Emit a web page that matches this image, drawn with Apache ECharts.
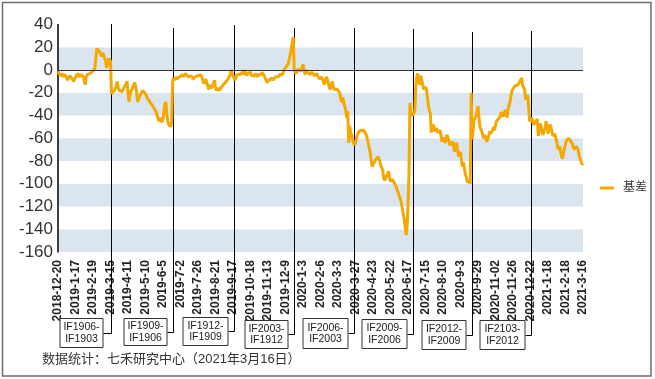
<!DOCTYPE html>
<html><head><meta charset="utf-8">
<script src="https://cdn.jsdelivr.net/npm/echarts@6/dist/echarts.min.js"></script>
<style>html,body{margin:0;padding:0;background:#fff}#c{width:655px;height:379px}</style>
</head><body><div id="c"></div>
<script>
// ---- data ----
const tickLabels = ['2018-12-20','2019-1-17','2019-2-19','2019-3-15','2019-4-11','2019-5-10','2019-6-5','2019-7-2','2019-7-26','2019-8-21','2019-9-17','2019-10-18','2019-11-13','2019-12-9','2020-1-3','2020-2-6','2020-3-3','2020-3-27','2020-4-23','2020-5-22','2020-6-17','2020-7-15','2020-8-10','2020-9-3','2020-9-29','2020-11-02','2020-11-26','2020-12-22','2021-1-18','2021-2-18','2021-3-16'];
const tickStep = 18; // trading days between tick labels
const seriesName = '基差';
// basis values, one per trading day, split by roll period
const segA = [-1,-3,-4,-5,-3,-6,-6,-4,-5,-7,-9,-7,-5,-6,-6,-8,-10,-8,-7,-5,-3,-4,-6,-5,-4,-4,-6,-9,-13,-6,-4,-3,-4,-3,-2,-2,-1,0,2,3,19,20,17,16,14,12,15,13,10,8,2,5,10,9,8];
const segB = [-21,-22,-20,-18,-19,-14,-10,-16,-18,-17,-19,-19,-17,-18,-16,-12,-10,-20,-28,-22,-19,-17,-15,-13,-11,-10,-20,-28,-25,-23,-22,-20,-18,-17,-19,-21,-23,-25,-26,-27,-29,-30,-31,-32,-34,-35,-37,-40,-43,-45,-42,-44,-46,-43,-36,-30,-28,-40,-46,-48,-47,-50,-44];
const segC = [-9,-7,-9,-6,-8,-7,-9,-6,-5,-7,-4,-6,-5,-3,-4,-3,-6,-5,-7,-5,-6,-8,-7,-6,-5,-7,-5,-4,-5,-4,-7,-9,-12,-10,-8,-11,-14,-17,-15,-13,-16,-17,-12,-9,-16,-18,-17,-16,-18,-17,-15,-16,-13,-12,-11,-10,-12,-8,-6,-4,0,-3,-5];
const segD = [-6,-9,-7,-4,-3,-5,-4,-5,-3,-2,-4,0,-3,-5,-3,-2,-4,-2,-5,-6,-4,-5,-3,-4,-6,-4,-5,-3,-4,-2,-3,-5,-7,-8,-11,-12,-9,-8,-10,-7,-9,-8,-9,-6,-7,-5,-6,-4,-5,-3,-4,-1,1,0,3,4,6,10,14,19,24,29];
const segE = [-1,-2,-3,-1,1,0,2,-1,-2,5,1,-4,-2,0,-2,-3,-4,-3,-2,-1,-2,-5,-4,-3,-5,-6,-8,-9,-6,-7,-10,-13,-9,-6,-8,-12,-15,-17,-13,-10,-14,-17,-16,-18,-17,-16,-19,-21,-26,-28,-24,-29,-32,-35,-42,-36,-64,-49,-55,-57,-62];
const segF = [-63,-66,-64,-60,-57,-55,-54,-53,-52,-52,-53,-53,-55,-57,-60,-64,-68,-72,-78,-85,-86,-84,-80,-81,-79,-76,-75,-80,-84,-86,-88,-95,-97,-95,-93,-91,-89,-94,-98,-97,-96,-98,-99,-101,-103,-106,-108,-111,-113,-116,-121,-126,-131,-137,-145,-139,-119,-92,-29,-38,-40];
const segG = [-39,-38,-36,-14,-6,-3,-8,-13,-5,-8,-12,-17,-16,-15,-17,-24,-31,-36,-38,-55,-50,-48,-52,-54,-51,-51,-55,-54,-53,-58,-63,-59,-59,-64,-62,-57,-58,-62,-66,-67,-65,-63,-68,-72,-66,-64,-70,-76,-74,-72,-80,-85,-81,-86,-92,-94,-99,-97,-98,-100,-20];
const segH = [-61,-52,-44,-42,-40,-36,-32,-42,-50,-52,-54,-58,-60,-57,-60,-63,-62,-58,-54,-56,-57,-53,-50,-53,-52,-45,-44,-46,-42,-40,-37,-38,-41,-38,-35,-38,-42,-34,-31,-28,-22,-18,-19,-17,-14,-13,-14,-13,-12,-10,-9,-7,-14,-15,-17,-26,-24,-22,-31,-45];
const segI = [-45,-42,-44,-48,-47,-46,-47,-43,-58,-52,-47,-50,-55,-57,-53,-51,-45,-50,-56,-52,-48,-50,-51,-58,-57,-56,-60,-63,-68,-70,-67,-72,-76,-78,-72,-69,-65,-62,-61,-60,-61,-62,-63,-65,-68,-70,-69,-67,-66,-70,-75,-78,-79,-83,-82];
const rollIndex = [54,118,181,243,304,365,426,486];
const rollLabels = ['IF1906-\nIF1903','IF1909-\nIF1906','IF1912-\nIF1909','IF2003-\nIF1912','IF2006-\nIF2003','IF2009-\nIF2006','IF2012-\nIF2009','IF2103-\nIF2012'];
const footerText = '数据统计：七禾研究中心（2021年3月16日）';

// ---- build ----
const basis = [].concat(segA, segB, segC, segD, segE, segF, segG, segH, segI);
const categories = basis.map((_, i) => i % tickStep === 0 ? tickLabels[i / tickStep] : tickLabels[Math.floor(i / tickStep)] + '+' + (i % tickStep));

const FONT = '"Liberation Sans", Arial, "Noto Sans CJK SC", sans-serif';
const chart = echarts.init(document.getElementById('c'), null, {renderer: 'canvas'});
chart.setOption({
  animation: false,
  backgroundColor: '#fff',
  grid: {left: 58, right: 72, top: 24.5, bottom: 127},
  legend: {
    data: [seriesName], left: 595, top: 177, icon: 'rect', itemWidth: 14, itemHeight: 3,
    textStyle: {fontSize: 12, color: '#333', fontFamily: FONT, padding: [0, 0, 0, 4]}
  },
  xAxis: {
    type: 'category', data: categories, boundaryGap: false,
    axisLine: {show: false, onZero: false}, axisTick: {show: false}, splitLine: {show: false},
    axisLabel: {interval: tickStep - 1, rotate: 90, fontSize: 12, fontWeight: 'bold', color: '#222', margin: 8, fontFamily: FONT}
  },
  yAxis: {
    type: 'value', min: -160, max: 40, interval: 20,
    axisLine: {show: true, onZero: false, lineStyle: {color: '#000', width: 1.5}},
    axisTick: {show: false}, splitLine: {show: false},
    axisLabel: {fontSize: 17, color: '#333', margin: 5, fontFamily: FONT},
    splitArea: {show: true, areaStyle: {color: ['#dbe5f0', '#ffffff']}}
  },
  series: [{
    name: seriesName, type: 'line', data: basis, showSymbol: false, z: 3,
    lineStyle: {color: '#f4a800', width: 3}, itemStyle: {color: '#f4a800'},
    markLine: {silent: true, symbol: 'none', label: {show: false},
      lineStyle: {color: '#333', width: 1, type: 'solid'}, data: [{yAxis: 0}]}
  }]
});

// roll annotations (layout only)
const lineTop = [24, 28, 25, 28, 28, 29, 32, 31];
const boxTop = [318, 318, 317, 320, 318, 319, 320, 320];
const boxH = [29, 27, 28, 28, 30, 29, 29, 29];
const boxW = [44, 44, 46, 44, 46, 46, 45, 46];
const boxGap = [8, 6, 6, 6, 6, 6, 6, 6];
const g = [];
rollIndex.forEach((idx, k) => {
  const x = Math.round(chart.convertToPixel({xAxisIndex: 0}, idx)) + 0.5;
  const cy = Math.round(boxTop[k] + boxH[k] / 2) + 0.5;
  const right = x - boxGap[k];
  g.push({type: 'polyline', z: 1, silent: true,
    shape: {points: [[x, lineTop[k]], [x, cy], [right, cy]]},
    style: {stroke: '#000', lineWidth: 1, fill: null}});
  g.push({type: 'rect', z: 10, silent: true,
    shape: {x: right - boxW[k] + 0.5, y: boxTop[k] + 0.5, width: boxW[k] - 1, height: boxH[k]},
    style: {fill: '#fff', stroke: '#333', lineWidth: 1}});
  g.push({type: 'text', z: 11, silent: true, x: right - boxW[k] / 2, y: boxTop[k] + boxH[k] / 2 + 0.5,
    style: {text: rollLabels[k], fontSize: 10.5, lineHeight: 11.5, align: 'center', verticalAlign: 'middle', fill: '#222', fontFamily: FONT}});
});
g.push({type: 'text', z: 11, silent: true, x: 42, y: 359,
  style: {text: footerText, fontSize: 13, fill: '#333', verticalAlign: 'middle', fontFamily: FONT}});
g.push({type: 'rect', z: 12, silent: true, shape: {x: 2.5, y: 2.5, width: 648.5, height: 373.5},
  style: {fill: null, stroke: '#6e6e6e', lineWidth: 1.5}});
chart.setOption({graphic: g});
</script>
</body></html>
